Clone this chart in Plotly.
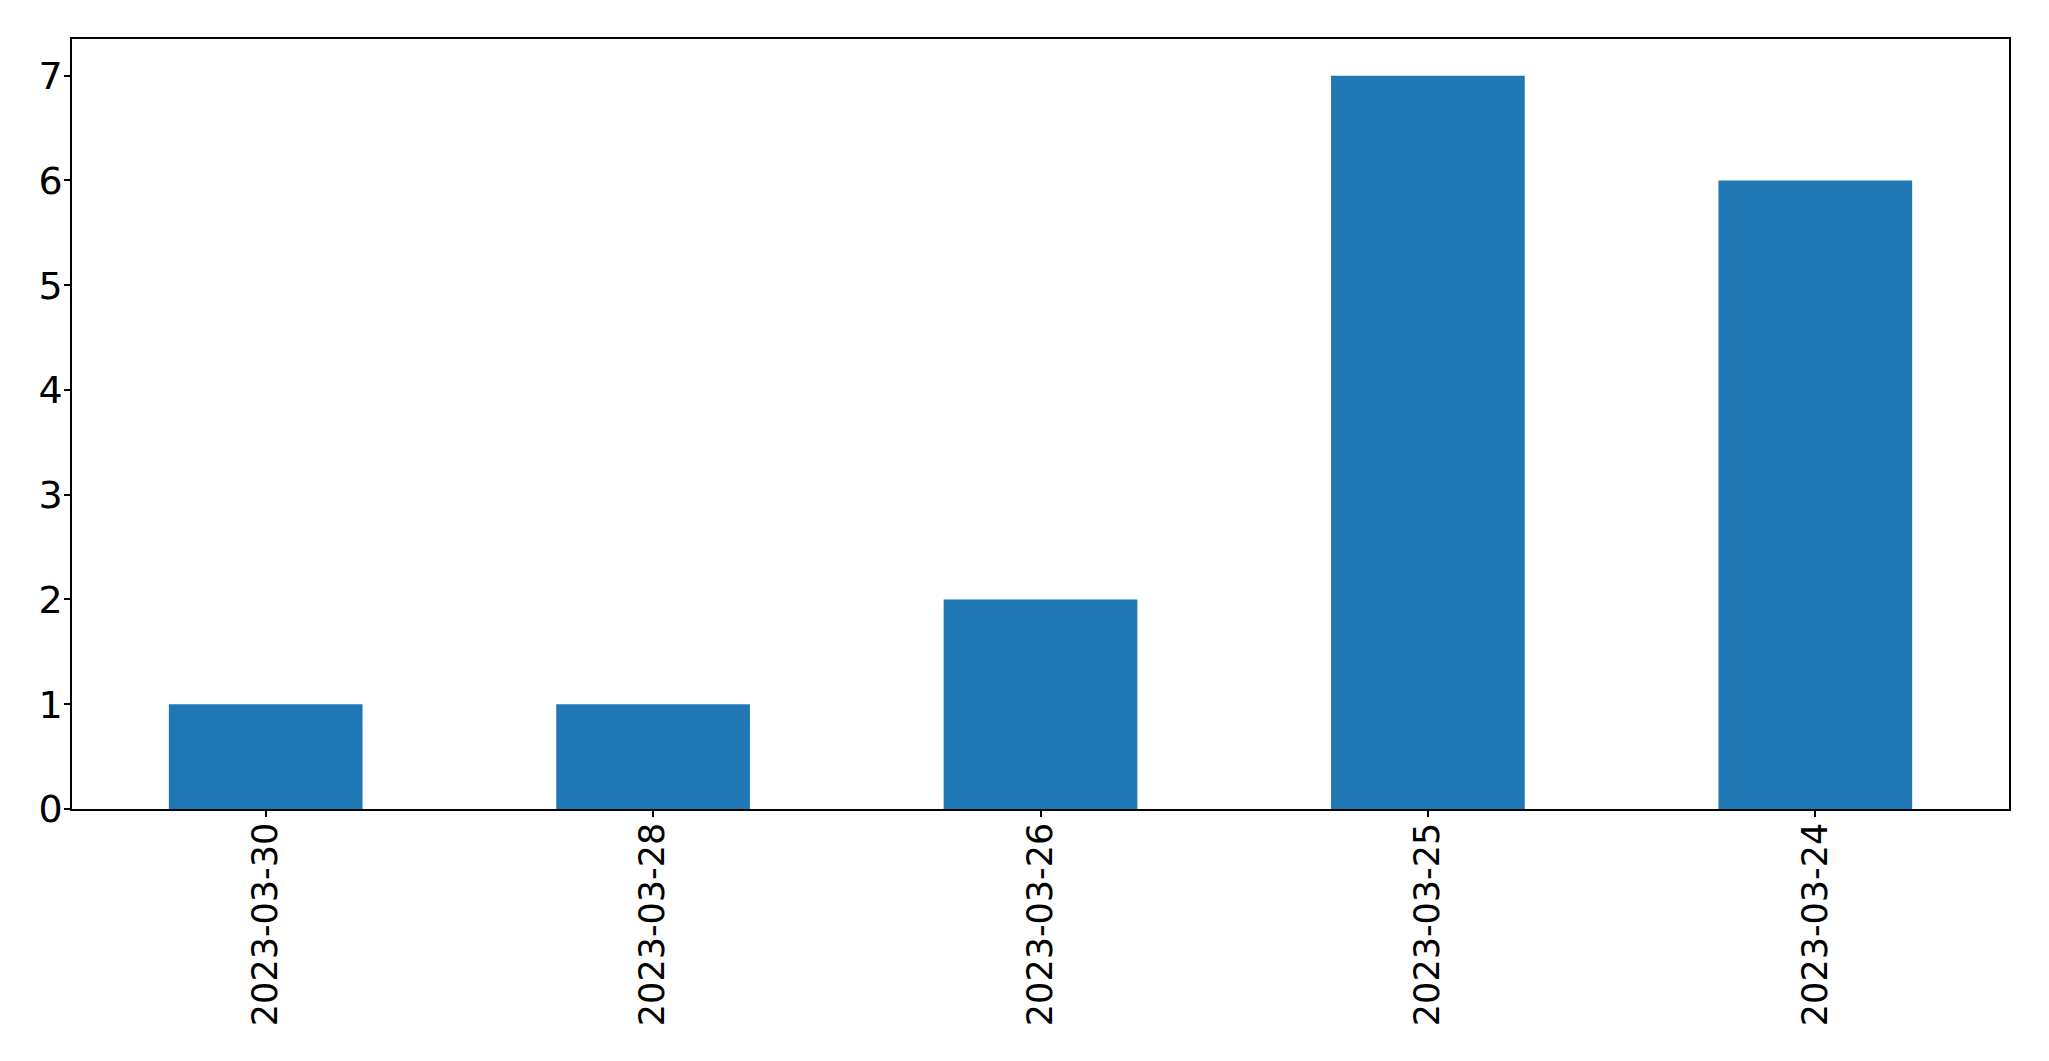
import plotly.graph_objects as go

categories = ["2023-03-30", "2023-03-28", "2023-03-26", "2023-03-25", "2023-03-24"]
counts = [1, 1, 2, 7, 6]

# page body has 8px default margin; compensate
OFF = 8
W, H = 2049 - 2 * OFF, 1061 - 2 * OFF
L, R, T, B = 72 - OFF, 2009 - OFF, 39 - OFF, 809 - OFF

fig = go.Figure(go.Bar(x=categories, y=counts, marker=dict(color="#1f77b4", line=dict(width=0)), width=0.5))

xfont = dict(family="DejaVu Sans", size=35, color="black")
yfont = dict(family="DejaVu Sans", size=38, color="black")
fig.update_layout(
    width=W, height=H,
    margin=dict(l=L, r=W - R, t=T, b=H - B, pad=0, autoexpand=False),
    paper_bgcolor="white", plot_bgcolor="white",
    showlegend=False,
    font=yfont,
)
fig.update_xaxes(
    type="category", range=[-0.5, 4.5], automargin=False,
    showline=True, linecolor="black", linewidth=1.5, mirror=True,
    ticks="outside", ticklen=6, tickwidth=1.5, tickcolor="black",
    tickangle=-90, tickfont=xfont, showgrid=False, zeroline=False,
    ticklabelstandoff=-8,
)
fig.update_yaxes(
    range=[0, 7.35], tickvals=[0, 1, 2, 3, 4, 5, 6, 7], automargin=False,
    showline=True, linecolor="black", linewidth=1.5, mirror=True,
    ticks="outside", ticklen=6, tickwidth=1.5, tickcolor="black",
    tickfont=yfont, showgrid=False, zeroline=False,
    ticklabelstandoff=-6,
)
fig.write_html("out.html")
